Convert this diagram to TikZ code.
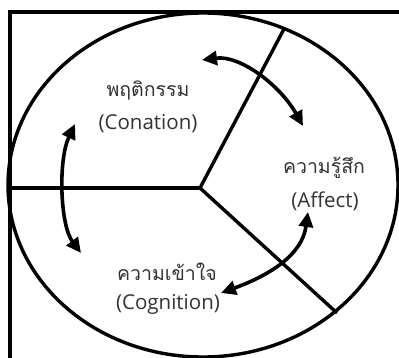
\documentclass[tikz,border=0pt]{standalone}
\usepackage{fontspec}
\setmainfont{Open Sans}
\newfontfamily\thai[Script=Thai]{Loma}
\usetikzlibrary{arrows.meta}
\definecolor{ink}{HTML}{333333}
\tikzset{
  frame/.style={line width=4.4pt},
  rim/.style={line width=3.4pt},
  divider/.style={line width=3.4pt},
  link/.style={line width=3.6pt,{Triangle[length=15pt,width=14pt]}-{Triangle[length=15pt,width=14pt]}},
  thaitext/.style={text=ink,font=\thai\fontsize{19.5}{23}\selectfont,inner sep=0pt},
  engtext/.style={text=ink,font=\fontsize{20.5}{24}\selectfont,inner sep=0pt}
}
\begin{document}
\begin{tikzpicture}[x=1pt,y=-1pt]
  \useasboundingbox (0,0) rectangle (399,358);
  \clip (0,0) rectangle (399,358);
  \fill[white] (0,0) rectangle (399,358);
  % outer frame, running past the right and bottom edges
  \draw[frame] (10,12) rectangle (430,400);
  % the attitude ellipse
  \draw[rim] (203,185) ellipse [x radius=195, y radius=172];
  % three sectors meeting at the hub
  \coordinate (hub) at (200,188);
  \coordinate (west) at (8,188);
  \coordinate (north) at (284,29);
  \coordinate (southeast) at (337,313);
  \draw[divider] (hub) -- (west);
  \draw[divider] (hub) -- (north);
  \draw[divider] (hub) -- (southeast);
  % labels
  \node[thaitext] (conTh) at (148,90) {พฤติกรรม};
  \node[engtext] (conEn) at (148,124) {(Conation)};
  \node[thaitext] (affTh) at (324,168) {ความรู้สึก};
  \node[engtext] (affEn) at (325,201) {(Affect)};
  \node[thaitext] (cogTh) at (167,272) {ความเข้าใจ};
  \node[engtext] (cogEn) at (168,304) {(Cognition)};
  % arrow end points
  \coordinate (conA) at (202,60);
  \coordinate (affA) at (303,126);
  \coordinate (conB) at (75,124);
  \coordinate (cogB) at (81,253);
  \coordinate (affC) at (308,212);
  \coordinate (cogC) at (221,293);
  % two-way relations
  \draw[link] (conA) .. controls (240,55) and (280,85) .. (affA);
  \draw[link] (conB) .. controls (58,160) and (60,225) .. (cogB);
  \draw[link] (affC) .. controls (302,255) and (270,275) .. (cogC);
\end{tikzpicture}
\end{document}
